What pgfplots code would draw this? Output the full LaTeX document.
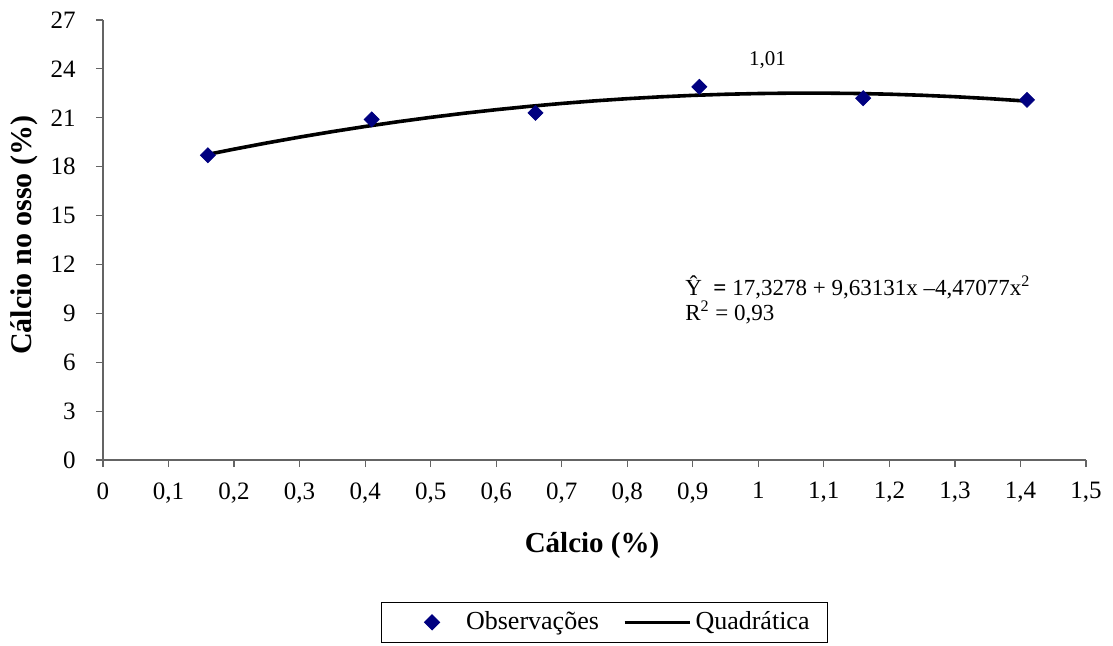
\documentclass[border=0pt]{standalone}
\usepackage{pgfplots}
\pgfplotsset{compat=1.18}
\usepackage{fontspec}
\setmainfont{Liberation Serif}
\definecolor{navymark}{RGB}{0,0,128}
\definecolor{axgray}{RGB}{100,100,100}
\pgfplotsset{
  longline/.style={legend image code/.code={\draw[##1] (0pt,0pt) -- (32.5pt,0pt);}},
  diamimg/.style={legend image code/.code={\path[draw=none] (0pt,0pt) -- (33.5pt,0pt); \path[draw=none] plot[mark=square*, mark size=2.65pt, mark options={rotate=45, fill=navymark, draw=navymark}] coordinates {(18.5pt,0pt)};}}
}
\begin{document}
\fontsize{12pt}{14pt}\selectfont
\begin{tikzpicture}
\path[use as bounding box] (0,0) rectangle (556.5pt,-323pt);
\begin{axis}[
  at={(51.5pt,-230pt)}, anchor=south west,
  scale only axis, width=491.5pt, height=220pt,
  xmin=0, xmax=1.5, ymin=0, ymax=27,
  xtick={0,0.1,...,1.5}, ytick={0,3,...,27},
  axis x line*=bottom, axis y line*=left,
  axis line style={axgray, line width=0.6pt, -},
  tick style={axgray, line width=0.6pt},
  tick align=outside, major tick length=3.5pt,
  /pgf/number format/.cd, use comma, 1000 sep={}, assume math mode=true,
  /pgfplots/.cd,
  ticklabel style={font=\fontsize{12.5pt}{14pt}\selectfont},
  xticklabel style={yshift=-3.5pt},
  yticklabel style={xshift=-6pt},
  xlabel={\bfseries Cálcio (\%)},
  ylabel={\bfseries Cálcio no osso (\%)},
  xlabel style={at={(axis description cs:0.4975,-0.195)}, anchor=center, font=\fontsize{14.5pt}{16pt}\selectfont},
  ylabel style={at={(axis description cs:-0.0804,0.511)}, anchor=center, font=\fontsize{15pt}{16pt}\selectfont},
  clip=false,
  legend columns=2,
  legend style={at={(0.510,-0.3227)}, anchor=north, draw=black, line width=0.5pt,
    font=\fontsize{13pt}{14pt}\selectfont, inner xsep=7pt, inner ysep=3pt,
    nodes={inner ysep=1.5pt},
    /tikz/every even column/.append style={column sep=10pt}},
]
\addplot[only marks, mark=square*, mark size=2.65pt, mark options={rotate=45, fill=navymark, draw=navymark}, diamimg]
  coordinates {(0.16,18.7) (0.41,20.9) (0.66,21.3) (0.91,22.9) (1.16,22.2) (1.41,22.1)};
\addlegendentry{Observações}
\addplot[black, line width=1.8pt, line join=round, longline]
  coordinates {
  (0.16,18.754) (0.20,19.075) (0.25,19.456) (0.30,19.815) (0.35,20.151)
  (0.40,20.465) (0.45,20.757) (0.50,21.026) (0.55,21.273) (0.60,21.497)
  (0.65,21.699) (0.70,21.879) (0.75,22.037) (0.80,22.172) (0.85,22.284)
  (0.90,22.375) (0.95,22.443) (1.00,22.488) (1.05,22.512) (1.10,22.513)
  (1.15,22.491) (1.20,22.448) (1.25,22.381) (1.30,22.293) (1.35,22.182)
  (1.40,22.049) (1.41,22.020)};
\addlegendentry{Quadrática}
\node[font=\fontsize{10.5pt}{12pt}\selectfont] at (axis cs:1.014,24.51) {1,01};
\node[font=\fontsize{11.5pt}{12.5pt}\selectfont, anchor=west, align=left, inner sep=0pt]
  at (axis cs:0.888,9.82) {Ŷ\enspace{\bfseries =} 17,3278 + 9,63131x –4,47077x\textsuperscript{2}\\R\textsuperscript{2} = 0,93};
\end{axis}
\end{tikzpicture}
\end{document}
